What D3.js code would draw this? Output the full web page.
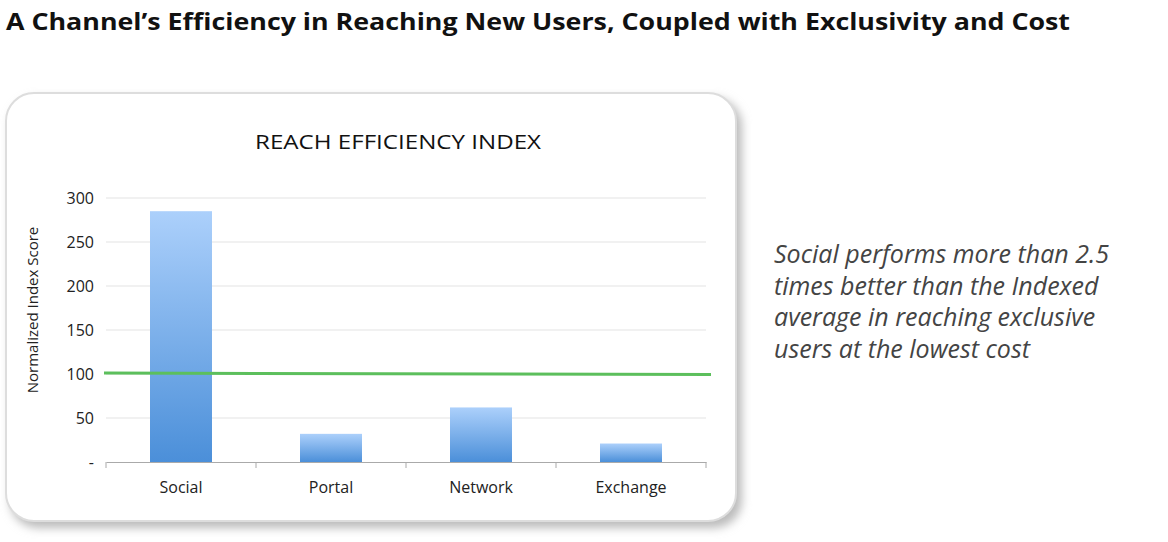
<!DOCTYPE html>
<html>
<head>
<meta charset="utf-8">
<script src="https://cdn.jsdelivr.net/npm/d3@7"></script>
<style>
  body { margin: 0; background: #fff; }
  text { font-family: "Open Sans", Lato, sans-serif; }
</style>
</head>
<body>
<svg id="chart" width="1168" height="542"></svg>
<script>
// data
var channels = ["Social", "Portal", "Network", "Exchange"];
var scores = [285, 32, 62, 21];
var average = 101;
var yTicks = [0, 50, 100, 150, 200, 250, 300];
var noteLines = ["Social performs more than 2.5", "times better than the Indexed",
                 "average in reaching exclusive", "users at the lowest cost"];

var svg = d3.select("#chart");

var defs = svg.append("defs");
var grad = defs.append("linearGradient").attr("id", "barGrad")
  .attr("x1", 0).attr("y1", 0).attr("x2", 0).attr("y2", 1);
grad.append("stop").attr("offset", "0%").attr("stop-color", "#acd0fb");
grad.append("stop").attr("offset", "100%").attr("stop-color", "#4b8fd9");
var blur = defs.append("filter").attr("id", "shadow")
  .attr("x", "-10%").attr("y", "-10%").attr("width", "120%").attr("height", "120%");
blur.append("feGaussianBlur").attr("stdDeviation", 5);

// page title
svg.append("text").attr("x", 6).attr("y", 30)
  .attr("font-size", 23).attr("font-weight", "bold").attr("fill", "#111")
  .attr("textLength", 1064).attr("lengthAdjust", "spacingAndGlyphs")
  .text("A Channel\u2019s Efficiency in Reaching New Users, Coupled with Exclusivity and Cost");

// card with shadow
svg.append("rect").attr("x", 10).attr("y", 98).attr("width", 732).attr("height", 430)
  .attr("rx", 28).attr("fill", "#bbb").attr("filter", "url(#shadow)");
svg.append("rect").attr("x", 6).attr("y", 93).attr("width", 730).attr("height", 428)
  .attr("rx", 28).attr("fill", "#fff").attr("stroke", "#ddd").attr("stroke-width", 2);

svg.append("text").attr("x", 255).attr("y", 149)
  .attr("font-size", 20).attr("fill", "#111")
  .attr("textLength", 286).attr("lengthAdjust", "spacingAndGlyphs")
  .text("REACH EFFICIENCY INDEX");

var x = d3.scaleBand().domain(channels).range([106, 706]);
var y = d3.scaleLinear().domain([0, 300]).range([462, 198]);

// gridlines
svg.append("g").selectAll("line").data(yTicks.slice(1)).join("line")
  .attr("x1", 106).attr("x2", 706)
  .attr("y1", d => y(d)).attr("y2", d => y(d))
  .attr("stroke", "#e3e3e3");

// y axis labels
svg.append("g").selectAll("text").data(yTicks).join("text")
  .attr("x", 94).attr("y", d => y(d) + 6).attr("text-anchor", "end")
  .attr("font-size", 16).attr("fill", "#222")
  .text(d => d === 0 ? "-" : d);

svg.append("text").attr("transform", "translate(38,310) rotate(-90)")
  .attr("text-anchor", "middle").attr("font-size", 15).attr("fill", "#222")
  .text("Normalized Index Score");

// bars
svg.append("g").selectAll("rect").data(channels).join("rect")
  .attr("x", d => x(d) + x.bandwidth() / 2 - 31)
  .attr("width", 62)
  .attr("y", (d, i) => y(scores[i]))
  .attr("height", (d, i) => y(0) - y(scores[i]))
  .attr("fill", "url(#barGrad)");

// x axis
var xAxis = svg.append("g").attr("transform", "translate(0,462)")
  .call(d3.axisBottom(x).tickSize(6).tickSizeOuter(0));
xAxis.select(".domain").attr("stroke", "#aaa");
xAxis.selectAll(".tick line").remove();
xAxis.selectAll(".tick text").attr("font-size", 16).attr("fill", "#222")
  .attr("dy", "1.35em").style("font-family", "'Open Sans', Lato, sans-serif");
svg.append("g").selectAll("line").data(d3.range(channels.length + 1)).join("line")
  .attr("x1", i => 106 + i * x.step()).attr("x2", i => 106 + i * x.step())
  .attr("y1", 462).attr("y2", 468).attr("stroke", "#aaa");

// average line
svg.append("line").attr("x1", 104).attr("x2", 711)
  .attr("y1", y(average)).attr("y2", y(average) + 1.5)
  .attr("stroke", "#5cbf5c").attr("stroke-width", 3);

// note
svg.append("g").selectAll("text").data(noteLines).join("text")
  .attr("x", 774).attr("y", (d, i) => 263 + i * 31.5)
  .attr("font-size", 25).attr("font-style", "italic").attr("fill", "#444")
  .text(d => d);
</script>
</body>
</html>
